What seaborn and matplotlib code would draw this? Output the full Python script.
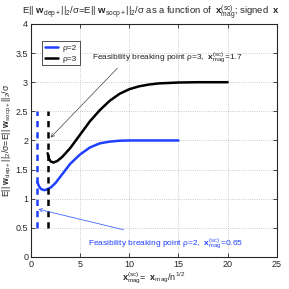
import matplotlib
matplotlib.use("Agg")
import matplotlib.pyplot as plt
import seaborn as sns
import pandas as pd

# curves
rho2_x = [0.65, 0.8, 1.0, 1.25, 1.5, 2.0, 2.5, 3.0, 4.0, 5.0, 6.0, 7.0, 8.0, 9.0, 10, 12, 15]
rho2_y = [1.29, 1.22, 1.17, 1.15, 1.15, 1.19, 1.27, 1.38, 1.6, 1.76, 1.88, 1.95, 1.98, 1.995, 2.0, 2.0, 2.0]
rho3_x = [1.7, 1.85, 2.0, 2.3, 2.7, 3.2, 4.0, 5.0, 6.0, 7.0, 8.0, 9.0, 10, 11, 12, 13, 15, 17, 20]
rho3_y = [1.78, 1.68, 1.64, 1.62, 1.65, 1.72, 1.87, 2.1, 2.33, 2.52, 2.68, 2.8, 2.88, 2.93, 2.96, 2.98, 2.995, 3.0, 3.0]

# feasibility breaking points
break_x = [0.65, 1.7]
break_ymin = 0.5
break_ymax = 2.5

sns.set_style("ticks")
plt.rcParams['font.family'] = ['Liberation Sans', 'DejaVu Sans']
plt.rcParams['mathtext.fontset'] = 'custom'
plt.rcParams['mathtext.rm'] = 'Liberation Sans'
plt.rcParams['mathtext.it'] = 'Liberation Sans:italic'
plt.rcParams['mathtext.bf'] = 'Liberation Sans:bold'

blue = '#2040ff'

df = pd.concat([
    pd.DataFrame({'x': rho2_x, 'y': rho2_y, 'rho': 'ρ=2'}),
    pd.DataFrame({'x': rho3_x, 'y': rho3_y, 'rho': 'ρ=3'}),
])

fig = plt.figure(figsize=(2.89, 2.89), dpi=100)
ax = fig.add_axes([0.107, 0.111, 0.851, 0.806])

sns.lineplot(data=df, x='x', y='y', hue='rho', palette={'ρ=2': blue, 'ρ=3': 'black'},
             linewidth=1.8, ax=ax)

ax.vlines(break_x[0], break_ymin, break_ymax, colors=blue, linestyles=(0, (2.5, 2)), linewidth=1.8)
ax.vlines(break_x[1], break_ymin, break_ymax, colors='black', linestyles=(0, (2.5, 2)), linewidth=1.8)

ax.annotate(r'Feasibility breaking point ρ=3,  $\mathbf{x}^{(\mathrm{sc})}_{\mathrm{mag}}$=1.7',
            xy=(2.0, 2.05), xytext=(6.2, 3.42), fontsize=6, va='center', color='#222222',
            arrowprops=dict(arrowstyle='->', color='#444444', lw=0.5, shrinkA=0, shrinkB=0,
                            relpos=(0.19, 0.0)))
ax.annotate(r'Feasibility breaking point ρ=2,  $\mathbf{x}^{(\mathrm{sc})}_{\mathrm{mag}}$=0.65',
            xy=(0.74, 0.82), xytext=(5.8, 0.22), fontsize=6, va='center', color=blue,
            arrowprops=dict(arrowstyle='->', color='#4466ff', lw=0.6, shrinkA=0, shrinkB=0,
                            relpos=(0.23, 1.5)))

ax.set_xlim(0, 25)
ax.set_ylim(0, 4)
ax.set_xticks([0, 5, 10, 15, 20, 25])
ax.set_yticks([0, 0.5, 1, 1.5, 2, 2.5, 3, 3.5, 4])
ax.set_yticklabels(['0', '0.5', '1', '1.5', '2', '2.5', '3', '3.5', '4'])
ax.tick_params(direction='in', top=True, right=True, labelsize=6.5, length=3, width=0.6, pad=2)
ax.grid(True, linestyle=':', color='#bbbbbb', linewidth=0.6)
for s in ax.spines.values():
    s.set_linewidth(0.8)

ax.set_xlabel(r'$\mathbf{x}^{(\mathrm{sc})}_{\mathrm{mag}}$=  $\mathbf{x}_{\mathrm{mag}}$/n$^{1/2}$',
              fontsize=6.5, labelpad=1)
ax.set_ylabel(r'E|| $\mathbf{w}_{\mathrm{dep+}}$||$_2$/σ=E|| $\mathbf{w}_{\mathrm{socp+}}$||$_2$/σ',
              fontsize=6.3, labelpad=1)
fig.text(0.076, 0.958,
         r'E|| $\mathbf{w}_{\mathrm{dep+}}$||$_2$/σ=E|| $\mathbf{w}_{\mathrm{socp+}}$||$_2$/σ as a function of  '
         r'$\mathbf{x}^{(\mathrm{sc})}_{\mathrm{mag}}$; signed  $\mathbf{x}$',
         fontsize=6.8, va='center', ha='left')

leg = ax.legend(loc='upper left', bbox_to_anchor=(0.045, 0.925), fontsize=6, frameon=True,
                fancybox=False, edgecolor='black', handlelength=1.6, borderpad=0.35,
                labelspacing=0.3, handletextpad=0.5, borderaxespad=0)
leg.get_frame().set_linewidth(0.6)
for line in leg.get_lines():
    line.set_linewidth(1.8)
leg.set_title(None)

fig.savefig('out.png', dpi=100)
